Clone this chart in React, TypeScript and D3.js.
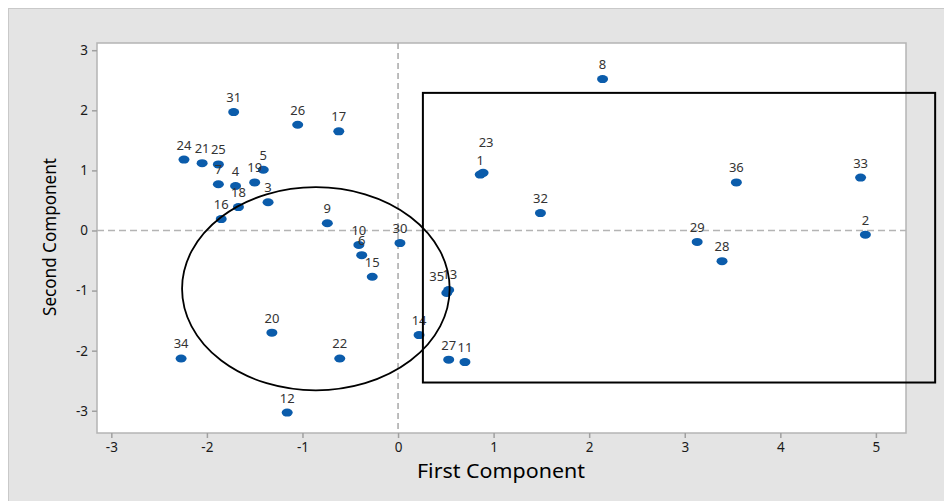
import * as React from 'react';
import * as d3 from 'd3';

// PCA scores (first component, second component)
const pointIds = [
  31, 26, 17, 24, 21, 25, 5, 19, 7, 4, 18, 3, 16, 9, 10, 6, 15, 30,
  35, 13, 14, 27, 11, 20, 22, 34, 12, 8, 1, 23, 32, 36, 33, 29, 28, 2,
];
const firstComp = [
  -1.72, -1.05, -0.62, -2.24, -2.05, -1.88, -1.41, -1.50, -1.88, -1.70, -1.67, -1.36, -1.85, -0.74, -0.41, -0.38, -0.27, 0.02,
  0.51, 0.53, 0.22, 0.53, 0.70, -1.32, -0.61, -2.27, -1.16, 2.14, 0.86, 0.89, 1.49, 3.54, 4.84, 3.13, 3.39, 4.89,
];
const secondComp = [
  1.97, 1.76, 1.65, 1.18, 1.12, 1.10, 1.01, 0.80, 0.77, 0.74, 0.39, 0.47, 0.19, 0.12, -0.24, -0.41, -0.77, -0.21,
  -1.04, -0.99, -1.74, -2.15, -2.19, -1.70, -2.13, -2.13, -3.03, 2.52, 0.93, 0.96, 0.29, 0.80, 0.88, -0.19, -0.51, -0.07,
];

const xTicks = [-3, -2, -1, 0, 1, 2, 3, 4, 5];
const yTicks = [-3, -2, -1, 0, 1, 2, 3];

// annotation shapes in data units
const ellipseCenter = [-0.86, -0.97];
const ellipseRadii = [1.4, 1.69];
const boxCorners = [0.26, 2.29, 5.62, -2.53]; // x0, y0, x1, y1

// label nudges where Minitab moved labels off overlapping points
const labelNudge: Record<number, [number, number]> = {
  23: [3, -16],
  35: [-10, -2],
  13: [1, -1],
};

const W = 944;
const H = 501;
const plot = { left: 97, right: 906, top: 43, bottom: 433 };

export default function App() {
  const ref = React.useRef<SVGSVGElement>(null);

  React.useEffect(() => {
    const svg = d3.select(ref.current);
    svg.selectAll('*').remove();

    const x = d3.scaleLinear().domain([-3.15, 5.315]).range([plot.left, plot.right]);
    const y = d3.scaleLinear().domain([3.12, -3.37]).range([plot.top, plot.bottom]);

    const data = pointIds.map((id, i) => ({ id, x: firstComp[i], y: secondComp[i] }));

    // outer panel
    svg.append('rect')
      .attr('x', 8.5).attr('y', 8.5)
      .attr('width', W).attr('height', H)
      .attr('fill', '#e4e4e4')
      .attr('stroke', '#c9c9c9');

    // plot area
    svg.append('rect')
      .attr('x', plot.left).attr('y', plot.top)
      .attr('width', plot.right - plot.left).attr('height', plot.bottom - plot.top)
      .attr('fill', '#ffffff')
      .attr('stroke', '#b4b4b4')
      .attr('stroke-width', 1.5);

    // reference lines
    svg.append('line')
      .attr('x1', x(0)).attr('x2', x(0))
      .attr('y1', plot.top).attr('y2', plot.bottom)
      .attr('stroke', '#a8a8a8').attr('stroke-width', 1.5)
      .attr('stroke-dasharray', '6,4');
    svg.append('line')
      .attr('x1', plot.left).attr('x2', plot.right)
      .attr('y1', y(0)).attr('y2', y(0))
      .attr('stroke', '#b4b4b4').attr('stroke-width', 1.5)
      .attr('stroke-dasharray', '7,4');

    // axes
    const xAxis = d3.axisBottom(x).tickValues(xTicks).tickSize(5).tickPadding(4)
      .tickFormat(d => String(d));
    const gx = svg.append('g')
      .attr('transform', 'translate(0,' + plot.bottom + ')')
      .call(xAxis);
    const yAxis = d3.axisLeft(y).tickValues(yTicks).tickSize(5).tickPadding(4)
      .tickFormat(d => String(d));
    const gy = svg.append('g')
      .attr('transform', 'translate(' + plot.left + ',0)')
      .call(yAxis);
    [gx, gy].forEach(g => {
      g.select('.domain').remove();
      g.selectAll('line').attr('stroke', '#a0a0a0').attr('stroke-width', 1.5);
      g.selectAll('text')
        .attr('fill', '#1a1a1a')
        .style('font-family', '"Noto Sans", sans-serif')
        .style('font-size', '13.5px');
    });

    svg.append('text')
      .attr('x', 501)
      .attr('y', 478)
      .attr('text-anchor', 'middle')
      .attr('fill', '#000')
      .attr('textLength', 168)
      .attr('lengthAdjust', 'spacingAndGlyphs')
      .style('font-family', '"Noto Sans", sans-serif')
      .style('font-size', '19px')
      .text('First Component');

    svg.append('text')
      .attr('transform', 'translate(56,' + 237 + ') rotate(-90)')
      .attr('text-anchor', 'middle')
      .attr('fill', '#000')
      .attr('textLength', 158)
      .attr('lengthAdjust', 'spacingAndGlyphs')
      .style('font-family', '"Noto Sans", sans-serif')
      .style('font-size', '17.5px')
      .text('Second Component');

    // points
    svg.append('g').selectAll('ellipse')
      .data(data)
      .enter()
      .append('ellipse')
      .attr('cx', d => x(d.x))
      .attr('cy', d => y(d.y))
      .attr('rx', 5.5)
      .attr('ry', 4)
      .attr('fill', '#0b5cab');

    svg.append('g').selectAll('text')
      .data(data)
      .enter()
      .append('text')
      .attr('x', d => x(d.x) + (labelNudge[d.id] ? labelNudge[d.id][0] : 0))
      .attr('y', d => y(d.y) - 10 + (labelNudge[d.id] ? labelNudge[d.id][1] : 0))
      .attr('text-anchor', 'middle')
      .attr('fill', '#333')
      .style('font-family', '"Noto Sans", sans-serif')
      .style('font-size', '13px')
      .text(d => d.id);

    // annotations
    svg.append('ellipse')
      .attr('cx', x(ellipseCenter[0]))
      .attr('cy', y(ellipseCenter[1]))
      .attr('rx', x(ellipseCenter[0] + ellipseRadii[0]) - x(ellipseCenter[0]))
      .attr('ry', y(ellipseCenter[1] - ellipseRadii[1]) - y(ellipseCenter[1]))
      .attr('fill', 'none')
      .attr('stroke', '#000')
      .attr('stroke-width', 1.8);

    svg.append('rect')
      .attr('x', x(boxCorners[0]))
      .attr('y', y(boxCorners[1]))
      .attr('width', x(boxCorners[2]) - x(boxCorners[0]))
      .attr('height', y(boxCorners[3]) - y(boxCorners[1]))
      .attr('fill', 'none')
      .attr('stroke', '#000')
      .attr('stroke-width', 2);
  }, []);

  return (
    <svg
      ref={ref}
      width={W}
      height={H}
      style={{ position: 'absolute', left: 0, top: 0, background: '#fff' }}
    />
  );
}
